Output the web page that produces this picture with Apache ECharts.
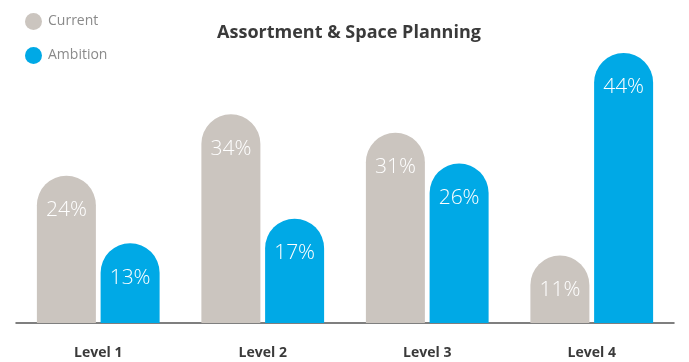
<!DOCTYPE html>
<html>
<head>
<meta charset="utf-8">
<style>
  html, body { margin: 0; padding: 0; background: #ffffff; }
  #chart { width: 689px; height: 362px; }
</style>
<script src="https://cdn.jsdelivr.net/npm/echarts@6/dist/echarts.min.js"></script>
</head>
<body>
<div id="chart"></div>
<script>
// Share of activity at each maturity level, in percent
const levels = ['Level 1', 'Level 2', 'Level 3', 'Level 4'];
const currentValues = [24, 34, 31, 11];
const ambitionValues = [13, 17, 26, 44];

const GREY = '#cbc5bf';
const BLUE = '#00a9e6';

const chart = echarts.init(document.getElementById('chart'), null, { renderer: 'canvas' });

const valueLabel = {
  show: true,
  position: 'insideTop',
  distance: 24,
  color: '#ffffff',
  fontFamily: 'Open Sans',
  fontWeight: 300,
  fontSize: 21,
  formatter: p => p.value + '%'
};

chart.setOption({
  animation: false,
  title: {
    text: 'Assortment & Space Planning',
    left: 344,
    top: 19,
    textAlign: 'center',
    textStyle: {
      fontFamily: 'Open Sans',
      fontWeight: 'bold',
      fontSize: 18,
      color: '#3a3a3a'
    }
  },
  legend: {
    orient: 'vertical',
    left: 20,
    top: 8,
    icon: 'circle',
    itemWidth: 17,
    itemHeight: 17,
    itemGap: 17,
    textStyle: {
      fontFamily: 'Open Sans',
      fontSize: 14,
      color: '#8a8a8a',
      padding: [0, 0, 0, 1]
    },
    data: ['Current', 'Ambition']
  },
  grid: { left: 16, right: 15, top: 53, bottom: 39 },
  xAxis: {
    type: 'category',
    data: levels,
    axisTick: { show: false },
    axisLine: { lineStyle: { color: '#555555', width: 1.5 } },
    axisLabel: {
      margin: 23,
      fontFamily: 'Open Sans',
      fontWeight: 'bold',
      fontSize: 14,
      color: '#3a3a3a'
    }
  },
  yAxis: {
    type: 'value',
    min: 0,
    max: 44,
    show: false,
    splitLine: { show: false }
  },
  series: [
    {
      name: 'Current',
      type: 'bar',
      data: currentValues,
      barWidth: 59,
      barGap: '8%',
      itemStyle: { color: GREY, borderRadius: [30, 30, 0, 0] },
      label: valueLabel
    },
    {
      name: 'Ambition',
      type: 'bar',
      data: ambitionValues,
      barWidth: 59,
      itemStyle: { color: BLUE, borderRadius: [30, 30, 0, 0] },
      label: valueLabel
    }
  ]
});
</script>
</body>
</html>
